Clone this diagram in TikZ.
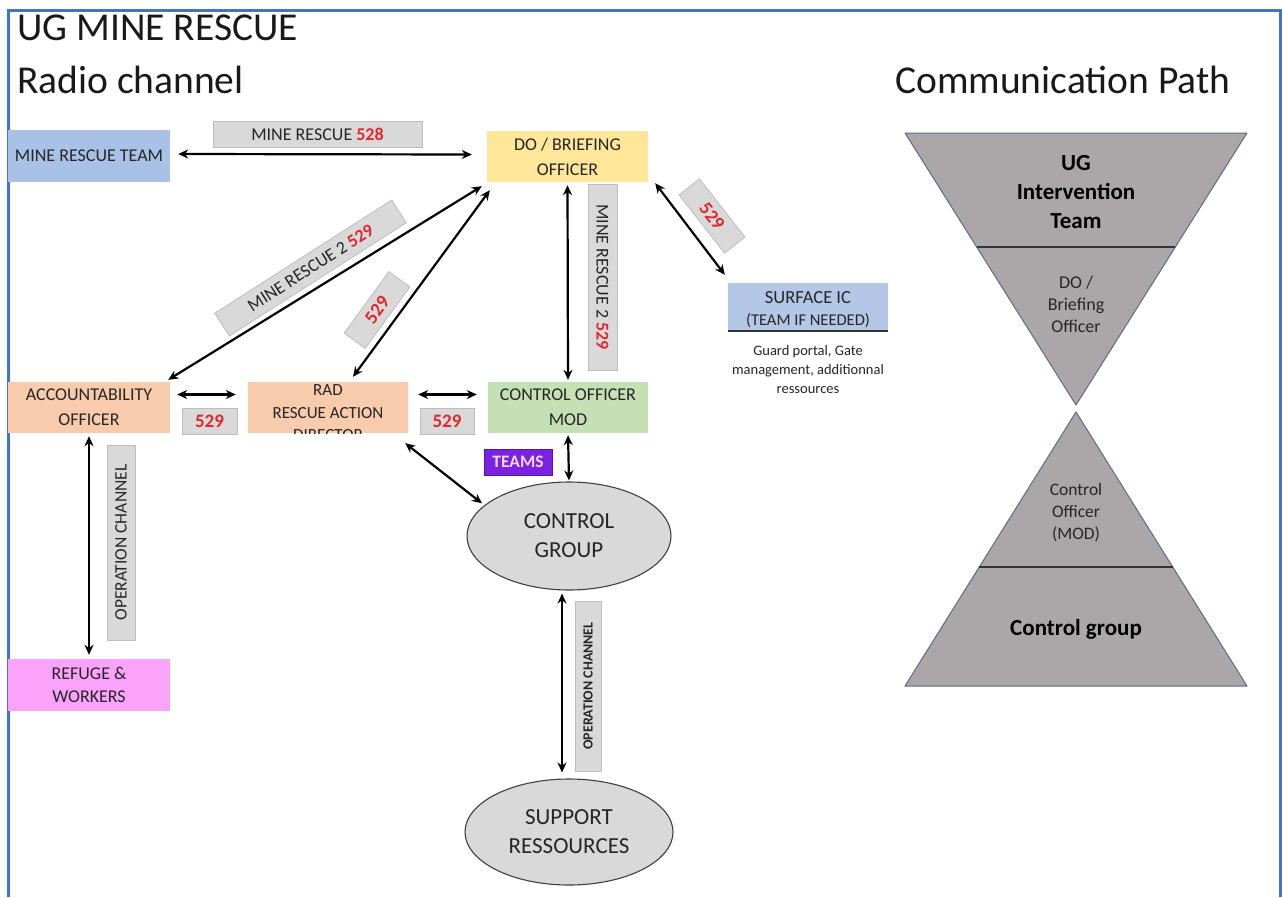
\documentclass[tikz,border=0pt]{standalone}
\usepackage{fontspec}
\setmainfont{Carlito}
\usetikzlibrary{arrows.meta,shapes.geometric}

\definecolor{frameblue}{HTML}{4472C4}
\definecolor{teamblue}{HTML}{A9C1E6}
\definecolor{surfblue}{HTML}{B4C7E7}
\definecolor{doyellow}{HTML}{FFE699}
\definecolor{peach}{HTML}{F8CBAD}
\definecolor{mintgreen}{HTML}{C5E0B4}
\definecolor{pinkbox}{HTML}{FBA2FB}
\definecolor{tagfill}{HTML}{D9D9D9}
\definecolor{tagedge}{HTML}{BDBDBD}
\definecolor{chanred}{HTML}{E0282E}
\definecolor{teampurple}{HTML}{7A22E2}
\definecolor{teamtext}{HTML}{F3D6F3}
\definecolor{funnelgray}{HTML}{ABA7A8}
\definecolor{funneledge}{HTML}{5F6B82}
\definecolor{ink}{HTML}{262626}

\tikzset{
  roleblock/.style={rectangle, inner sep=0pt, text=ink, align=center,
    font=\fontsize{18}{25}\selectfont},
  tagbox/.style={rectangle, fill=tagfill, draw=tagedge, line width=0.8pt,
    inner sep=0pt, text=ink, align=center, font=\fontsize{18}{20}\selectfont},
  groupoval/.style={ellipse, fill=tagfill, draw=black!75, line width=1.1pt,
    inner sep=0pt, text=ink, align=center, font=\fontsize{23}{29}\selectfont},
  biarrow/.style={{Stealth[length=10pt,width=9pt]}-{Stealth[length=10pt,width=9pt]},
    line width=2.2pt, black},
  funnel/.style={fill=funnelgray, draw=funneledge, line width=1pt, line join=round},
  divider/.style={draw=black!80, line width=1.3pt}
}
\newcommand{\chan}[1]{\textcolor{chanred}{\bfseries #1}}

\begin{document}
\begin{tikzpicture}[x=1pt,y=-1pt]
\useasboundingbox (0,0) rectangle (1282,897);
\fill[white] (0,0) rectangle (1282,897);

% page frame
\draw[frameblue, line width=3pt] (8,897) -- (8,10) -- (1280,10) -- (1280,897);

% headings
\node[anchor=base west, inner sep=0pt, font=\fontsize{39.5}{40}\selectfont, text=black!90]
  (title) at (17,40) {UG MINE RESCUE};
\node[anchor=base west, inner sep=0pt, font=\fontsize{39.5}{40}\selectfont, text=black!90]
  (radio) at (17,93) {Radio channel};
\node[anchor=base west, inner sep=0pt, font=\fontsize{39.5}{40}\selectfont, text=black!90]
  (path) at (895,93) {Communication Path};

% role blocks
\node[roleblock, fill=teamblue, minimum width=162, minimum height=52] (mrt) at (89,156) {MINE RESCUE TEAM};
\node[roleblock, fill=doyellow, minimum width=161, minimum height=51] (do) at (567.5,156.5) {DO / BRIEFING\\OFFICER};
\node[roleblock, fill=surfblue, minimum width=160, minimum height=48] (surf) at (808,307) {};
\node[align=center, inner sep=0pt, text=ink, font=\fontsize{18.5}{22}\selectfont]
  (surftext) at (808,309.5) {SURFACE IC\\\fontsize{16.5}{22}\selectfont (TEAM IF NEEDED)};
\draw[black!80, line width=1.5pt] (surf.south west) -- (surf.south east);
\node[align=center, inner sep=0pt, text=ink, font=\fontsize{14.5}{19}\selectfont]
  (surfnote) at (808,370) {Guard portal, Gate\\management, additionnal\\ressources};

\node[roleblock, fill=peach, minimum width=162, minimum height=51] (acc) at (89,407.5) {ACCOUNTABILITY\\OFFICER};
\node[roleblock, fill=peach, minimum width=160, minimum height=51] (rad) at (328,407.5) {};
\begin{scope}
  \clip (rad.north west) rectangle (rad.south east);
  \node[align=center, inner sep=0pt, text=ink, font=\fontsize{17}{22.5}\selectfont]
    (radtext) at (328,413) {RAD\\RESCUE ACTION\\DIRECTOR};
\end{scope}
\node[roleblock, fill=mintgreen, minimum width=160, minimum height=51] (cof) at (568,407.5) {CONTROL OFFICER\\MOD};
\node[roleblock, fill=pinkbox, minimum width=162, minimum height=52, font=\fontsize{18}{23}\selectfont] (ref) at (89,685) {REFUGE \&\\WORKERS};

\node[groupoval, minimum width=204, minimum height=108] (cg) at (569,536) {CONTROL\\GROUP};
\node[groupoval, minimum width=208, minimum height=106] (sup) at (569,832) {SUPPORT\\RESSOURCES};

% channel tags
\node[tagbox, minimum width=209, minimum height=26] (t528) at (317.5,134) {MINE RESCUE \chan{528}};
\node[tagbox, minimum width=186, minimum height=29, rotate=-90] (tmr2v) at (602.5,277) {MINE RESCUE 2 \chan{529}};
\node[tagbox, minimum width=210, minimum height=27, rotate=32.6] (tmr2d) at (310.5,268) {MINE RESCUE 2 \chan{529}};
\node[tagbox, minimum width=76, minimum height=26, rotate=54, font=\fontsize{19}{20}\selectfont] (t529r) at (377,310) {\chan{529}};
\node[tagbox, minimum width=74, minimum height=26, rotate=-52, font=\fontsize{19}{20}\selectfont] (t529s) at (712,216) {\chan{529}};
\node[tagbox, minimum width=55, minimum height=26, font=\fontsize{19}{20}\selectfont] (t529a) at (209.5,421) {\chan{529}};
\node[tagbox, minimum width=54, minimum height=26, font=\fontsize{19}{20}\selectfont] (t529b) at (447,421) {\chan{529}};
\node[tagbox, minimum width=195, minimum height=28, rotate=90, font=\fontsize{17.5}{18}\selectfont] (top1) at (121,542.5) {OPERATION CHANNEL};
\node[tagbox, minimum width=170, minimum height=26, rotate=90, font=\fontsize{14}{15}\selectfont\bfseries] (top2) at (588,686) {OPERATION CHANNEL};
\node[rectangle, fill=teampurple, draw=teampurple!70!black, line width=0.6pt, inner sep=0pt,
  minimum width=68, minimum height=26, text=teamtext, font=\fontsize{17.5}{18}\selectfont\bfseries]
  (teams) at (518,462) {TEAMS};

% radio links
\draw[biarrow] ([shift={(8,-2)}]mrt.east) -- ([shift={(-15,-2)}]do.west);
\draw[biarrow] ([shift={(-2,-2)}]acc.north east) -- ([shift={(-5,4)}]do.south west);
\draw[biarrow] ([shift={(25,-5)}]rad.north) -- ([shift={(3,8)}]do.south west);
\draw[biarrow, shorten <=3pt, shorten >=2pt] (do.south) -- (cof.north);
\draw[biarrow] ([shift={(7,1)}]do.south east) -- ([shift={(-3,-8)}]surf.north west);
\draw[biarrow] ([shift={(7,-13)}]acc.east) -- ([shift={(-12,-13)}]rad.west);
\draw[biarrow] ([shift={(10,-13)}]rad.east) -- ([shift={(-11,-13)}]cof.west);
\draw[biarrow, shorten <=2pt, shorten >=1pt] (cof.south) -- (cg.north);
\draw[biarrow, shorten >=3pt] ([shift={(-3,10)}]rad.south east) -- (cg.160);
\draw[biarrow, shorten <=3pt, shorten >=4pt] (acc.south) -- (ref.north);
\draw[biarrow, shorten <=3pt, shorten >=6pt] ([xshift=-7]cg.south) -- ([xshift=-7]sup.north);

% communication path funnel
\draw[funnel] (905,133) -- (1247,133) -- (1076,405) -- cycle;
\draw[divider] (977,247) -- (1175,247);
\draw[funnel] (1076,412) -- (1247,686) -- (905,686) -- cycle;
\draw[divider] (979,567) -- (1173,567);

\node[align=center, inner sep=0pt, text=black, font=\fontsize{23}{29}\selectfont\bfseries]
  (pugt) at (1076,192) {UG\\Intervention\\Team};
\node[align=center, inner sep=0pt, text=ink, font=\fontsize{18}{22}\selectfont]
  (pdo) at (1076,304) {DO /\\Briefing\\Officer};
\node[align=center, inner sep=0pt, text=ink, font=\fontsize{17.5}{22}\selectfont]
  (pco) at (1076,513) {Control\\Officer\\(MOD)};
\node[align=center, inner sep=0pt, text=black, font=\fontsize{23}{24}\selectfont\bfseries]
  (pcg) at (1076,629) {Control group};
\end{tikzpicture}
\end{document}
